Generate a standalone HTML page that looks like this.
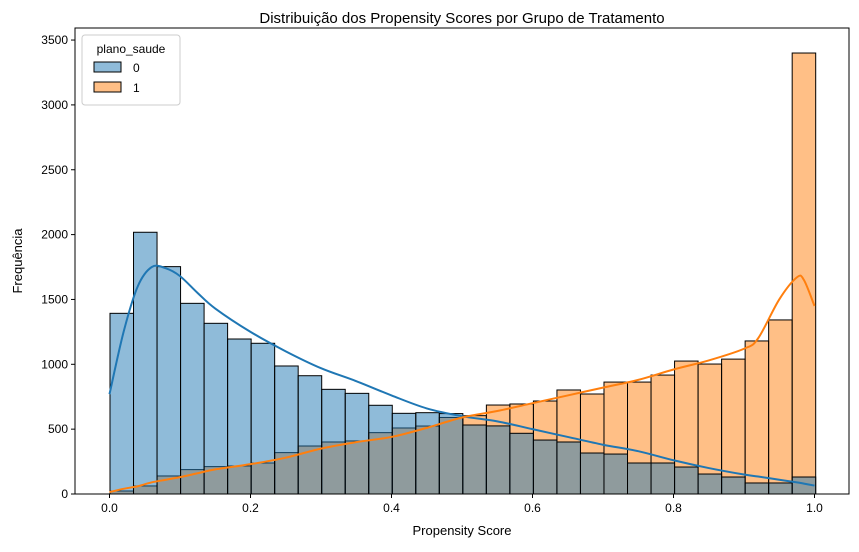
<!DOCTYPE html>
<html><head><meta charset="utf-8"><style>
body{margin:0;background:#fff;font-family:"Liberation Sans","DejaVu Sans",sans-serif}
</style></head><body>
<svg id="chart" width="859" height="547" xmlns="http://www.w3.org/2000/svg">
<text x="462" y="23" text-anchor="middle" font-size="15">Distribuição dos Propensity Scores por Grupo de Tratamento</text>
<g id="plot"></g>
<text x="462" y="535" text-anchor="middle" font-size="13">Propensity Score</text>
<text transform="translate(22,261) rotate(-90)" text-anchor="middle" font-size="13">Frequência</text>
</svg>
<script>
const blueCounts=[1393,2018,1753,1470,1316,1195,1162,987,912,807,776,684,622,627,620,532,525,468,416,401,316,308,239,239,208,154,131,85,85,131];
const orangeCounts=[23,62,139,188,211,216,239,319,370,401,409,473,509,524,590,604,686,694,717,802,771,863,863,917,1025,1002,1040,1180,1342,3400];
const kdeX=[0,0.02,0.04,0.06,0.08,0.1,0.125,0.15,0.2,0.25,0.3,0.35,0.4,0.45,0.5,0.55,0.6,0.65,0.7,0.75,0.8,0.85,0.9,0.92,0.95,0.975,0.985,1.0];
const blueKde=[770,1250,1600,1750,1740,1680,1550,1430,1250,1100,970,870,760,660,600,560,500,440,380,330,260,200,150,135,110,90,80,65];
const orangeKde=[15,40,60,90,110,130,160,190,230,280,350,400,440,510,590,640,700,760,820,880,960,1030,1120,1200,1500,1670,1650,1450];
const yTicks=[0,500,1000,1500,2000,2500,3000,3500];
const xTicks=[0,0.2,0.4,0.6,0.8,1.0];
const L=75,R=849,T=28,B=494;
const xs=v=>109.5+v*705;
const ys=v=>B-v*0.1297;
const NS="http://www.w3.org/2000/svg";
const g=document.getElementById('plot');
function mk(t,a){const e=document.createElementNS(NS,t);for(const k in a)e.setAttribute(k,a[k]);g.appendChild(e);return e;}
const x0=0.0007,x1=1.0017,bw=(x1-x0)/30;
orangeCounts.forEach((c,i)=>{const e=mk('rect',{x:xs(x0+i*bw),y:ys(c),width:bw*705,height:B-ys(c),fill:'#ff7f0e','fill-opacity':0.5,stroke:'#000','stroke-width':1});

});
blueCounts.forEach((c,i)=>{const e=mk('rect',{x:xs(x0+i*bw),y:ys(c),width:bw*705,height:B-ys(c),fill:'#1f77b4','fill-opacity':0.5,stroke:'#000','stroke-width':1});

});
function line(arr,col,name){
const P=arr.map((v,i)=>[xs(kdeX[i]),ys(v)]);
let d='M'+P[0][0]+','+P[0][1];
for(let i=0;i<P.length-1;i++){const p0=P[Math.max(i-1,0)],p1=P[i],p2=P[i+1],p3=P[Math.min(i+2,P.length-1)];
d+=' C'+(p1[0]+(p2[0]-p0[0])/6)+','+(p1[1]+(p2[1]-p0[1])/6)+' '+(p2[0]-(p3[0]-p1[0])/6)+','+(p2[1]-(p3[1]-p1[1])/6)+' '+p2[0]+','+p2[1];}
const p=mk('path',{d:d,fill:'none',stroke:col,'stroke-width':2,'stroke-linejoin':'round'});

}
line(blueKde,'#1f77b4','kde-line-group0');
line(orangeKde,'#ff7f0e','kde-line-group1');
const fr=mk('rect',{x:L,y:T,width:R-L,height:B-T,fill:'none',stroke:'#000','stroke-width':1});


yTicks.forEach(v=>{mk('line',{x1:L-4,x2:L,y1:ys(v),y2:ys(v),stroke:'#000'});
const t=mk('text',{x:L-7,y:ys(v)+4,'text-anchor':'end','font-size':12});t.textContent=v;

});
xTicks.forEach(v=>{mk('line',{x1:xs(v),x2:xs(v),y1:B,y2:B+4,stroke:'#000'});
const t=mk('text',{x:xs(v),y:B+18,'text-anchor':'middle','font-size':12});t.textContent=v.toFixed(1);

});
const lg=mk('rect',{x:82,y:35,width:98,height:70,rx:3,fill:'#fff','fill-opacity':0.8,stroke:'#ccc'});


const lt=mk('text',{x:131,y:53,'text-anchor':'middle','font-size':12});lt.textContent='plano_saude';


[['0','#1f77b4',62],['1','#ff7f0e',82]].forEach(([n,c,y])=>{
const r=mk('rect',{x:94,y:y,width:27,height:10,fill:c,'fill-opacity':0.5,stroke:'#000'});


const t=mk('text',{x:133,y:y+10,'font-size':12});t.textContent=n;

});
</script>
</body></html>
